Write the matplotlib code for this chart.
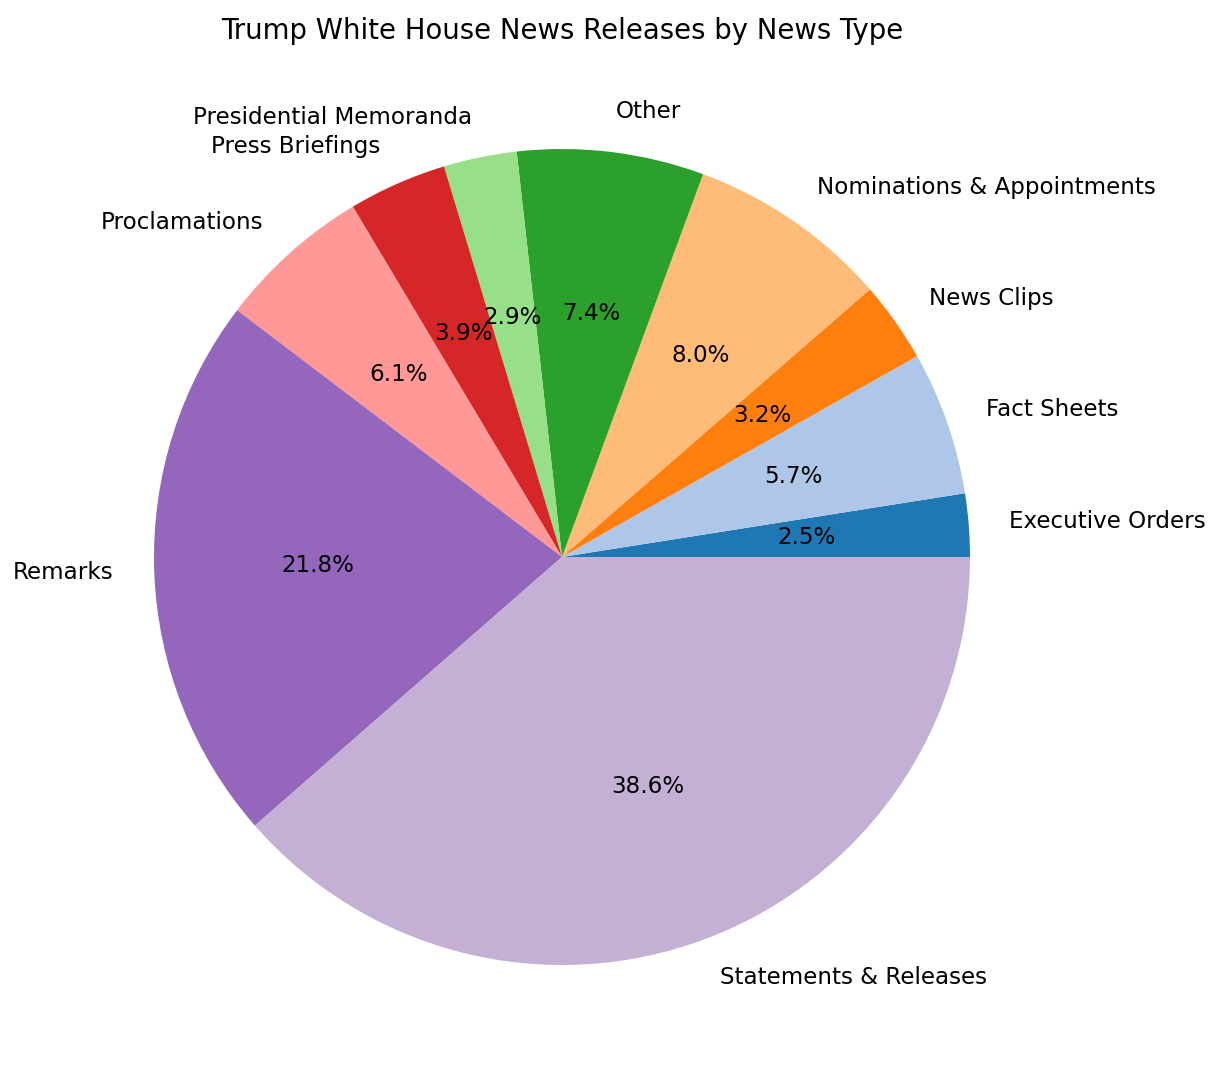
import matplotlib
matplotlib.use("Agg")
import matplotlib.pyplot as plt

categories = ["Executive Orders", "Fact Sheets", "News Clips", "Nominations & Appointments",
              "Other", "Presidential Memoranda", "Press Briefings", "Proclamations",
              "Remarks", "Statements & Releases"]
shares = [2.5, 5.7, 3.2, 8.0, 7.4, 2.9, 3.9, 6.1, 21.8, 38.6]

colors = plt.get_cmap("tab20").colors[:len(categories)]

fig = plt.figure(figsize=(12.2, 10.8), dpi=100)
ax = fig.add_axes([52/1220, 13/1080, 1020/1220, 1020/1080])
wedges, texts, autotexts = ax.pie(shares, labels=categories, colors=colors,
                                  autopct="%1.1f%%", textprops={"fontsize": 16.6})
ax.set_aspect("equal")
ax.set_title("Trump White House News Releases by News Type", fontsize=19.8)
fig.savefig("out.png", dpi=100)
